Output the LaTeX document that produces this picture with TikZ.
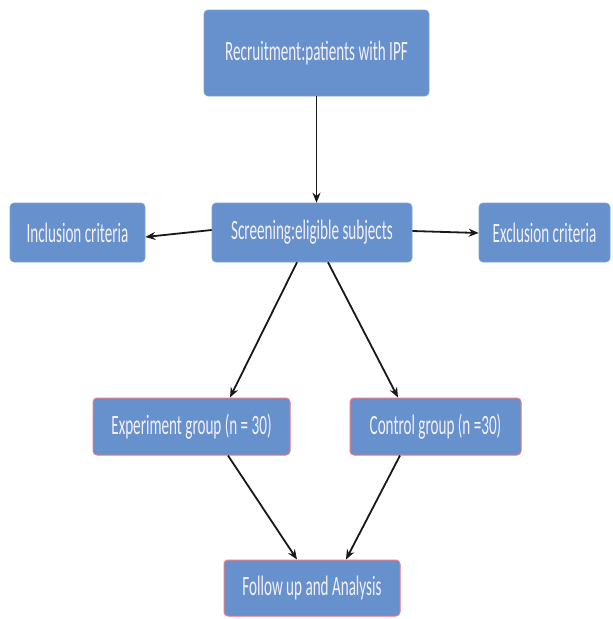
\documentclass[tikz,border=0pt]{standalone}
\usepackage{fontspec}
\usepackage{graphicx}
\setmainfont{Carlito}
\usetikzlibrary{arrows.meta}
\definecolor{boxblue}{RGB}{102,145,204}
\definecolor{boxtext}{RGB}{244,240,246}
\definecolor{pinkedge}{RGB}{238,120,135}
\newcommand{\boxtxt}[1]{\scalebox{0.54}[1]{\fontsize{28}{30}\selectfont #1}}
\tikzset{
  box/.style={rectangle, rounded corners=4pt, fill=boxblue, draw=boxblue!85!white, line width=0.6pt, text=boxtext, inner sep=0pt},
  pinkbox/.style={box, draw=pinkedge, line width=1pt},
  arr/.style={-{Stealth[length=10pt,width=8pt]}, line width=1.8pt, black!90}
}
\begin{document}
\begin{tikzpicture}[x=1pt,y=-1pt]
\useasboundingbox (0,0) rectangle (613,619);
\fill[white] (0,0) rectangle (613,619);
\node[box, minimum width=225pt, minimum height=86pt] (rec) at (316.5,53) {\boxtxt{Recruitment:patients with IPF}};
\node[box, minimum width=135pt, minimum height=59pt] (inc) at (77.5,232.5) {\boxtxt{Inclusion criteria}};
\node[box, minimum width=200pt, minimum height=59pt] (scr) at (312,232.5) {\boxtxt{Screening:eligible subjects}};
\node[box, minimum width=131pt, minimum height=59pt] (exc) at (544.5,232.5) {\boxtxt{Exclusion criteria}};
\node[pinkbox, minimum width=197pt, minimum height=57pt] (exp) at (191.5,426.5) {\boxtxt{Experiment group (n = 30)}};
\node[pinkbox, minimum width=171pt, minimum height=57pt] (con) at (435.5,426.5) {\boxtxt{Control group (n =30)}};
\node[pinkbox, minimum width=176pt, minimum height=56pt] (fol) at (312,588) {\boxtxt{Follow up and Analysis}};
\draw[arr] (rec.south) -- (rec.south |- scr.north);
\draw[arr] ([yshift=2.5pt]scr.west) -- ([yshift=-4.5pt]inc.east);
\draw[arr] ([yshift=1.5pt]scr.east) -- ([yshift=-0.5pt]exc.west);
\draw[arr] ([xshift=-15pt]scr.south) -- ([xshift=38.5pt]exp.north);
\draw[arr] ([xshift=16pt]scr.south) -- ([xshift=-37.5pt]con.north);
\draw[arr] ([xshift=36.5pt]exp.south) -- ([xshift=-15pt]fol.north);
\draw[arr] ([xshift=-35.5pt]con.south) -- ([xshift=34pt]fol.north);
\end{tikzpicture}
\end{document}
